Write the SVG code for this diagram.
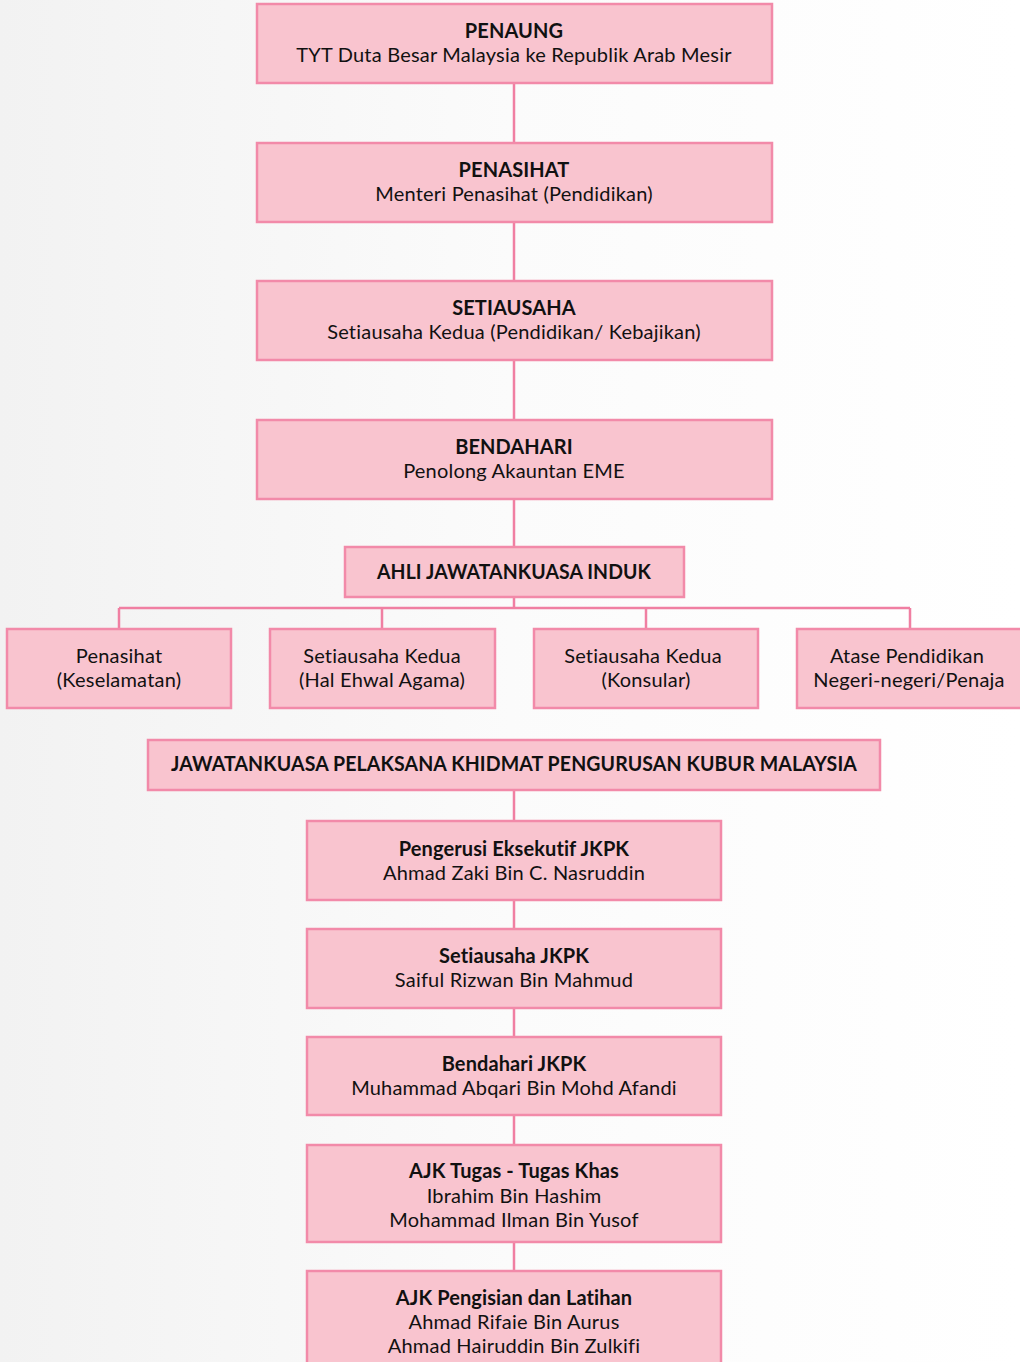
<svg xmlns="http://www.w3.org/2000/svg" width="1020" height="1362" viewBox="0 0 1020 1362">
<defs>
<linearGradient id="bg" x1="0" y1="0" x2="1" y2="0">
<stop offset="0" stop-color="#f2f2f2"/>
<stop offset="0.5" stop-color="#fbfbfb"/>
<stop offset="1" stop-color="#ffffff"/>
</linearGradient>
</defs>
<style>
.box{fill:#f9c4cf;stroke:#f28aa9;stroke-width:2.5}
.ln{stroke:#f07fa2;stroke-width:2.5;fill:none}
text{font-family:Lato,"Noto Sans","DejaVu Sans",sans-serif;font-size:20px;letter-spacing:0.2px;fill:#111;text-anchor:middle;dominant-baseline:central}
.b{font-weight:bold;letter-spacing:0.1px}
</style>
<rect width="1020" height="1362" fill="url(#bg)"/>
<g id="connectors">
<path class="ln" d="M514 83V143M514 222V281M514 360V420M514 499V547M514 597V608M119 608H910M119 608V629M382 608V629M646 608V629M910 608V629M514 790V821M514 900V929M514 1008V1037M514 1115V1145M514 1242V1271"/>
</g>
<g id="penaung"><rect class="box" x="257" y="4" width="515" height="79"/><text class="b" x="514" y="29.5">PENAUNG</text><text x="514" y="53.5">TYT Duta Besar Malaysia ke Republik Arab Mesir</text></g>
<g id="penasihat"><rect class="box" x="257" y="143" width="515" height="79"/><text class="b" x="514" y="168.5">PENASIHAT</text><text x="514" y="192.5">Menteri Penasihat (Pendidikan)</text></g>
<g id="setiausaha"><rect class="box" x="257" y="281" width="515" height="79"/><text class="b" x="514" y="306.5">SETIAUSAHA</text><text x="514" y="330.5">Setiausaha Kedua (Pendidikan/ Kebajikan)</text></g>
<g id="bendahari"><rect class="box" x="257" y="420" width="515" height="79"/><text class="b" x="514" y="445.5">BENDAHARI</text><text x="514" y="469.5">Penolong Akauntan EME</text></g>
<g id="ajk-induk"><rect class="box" x="345" y="547" width="339" height="50"/><text class="b" x="514" y="570.5" textLength="274" lengthAdjust="spacingAndGlyphs">AHLI JAWATANKUASA INDUK</text></g>
<g id="keselamatan"><rect class="box" x="7" y="629" width="224" height="79"/><text x="119" y="654.5">Penasihat</text><text x="119" y="678.5">(Keselamatan)</text></g>
<g id="agama"><rect class="box" x="270" y="629" width="225" height="79"/><text x="382" y="654.5">Setiausaha Kedua</text><text x="382" y="678.5">(Hal Ehwal Agama)</text></g>
<g id="konsular"><rect class="box" x="534" y="629" width="224" height="79"/><text x="643" y="654.5">Setiausaha Kedua</text><text x="646" y="678.5">(Konsular)</text></g>
<g id="atase"><rect class="box" x="797" y="629" width="226" height="79"/><text x="907" y="654.5">Atase Pendidikan</text><text x="909" y="678.5">Negeri-negeri/Penaja</text></g>
<g id="jkpk"><rect class="box" x="148" y="740" width="732" height="50"/><text class="b" x="514" y="762.5" textLength="686" lengthAdjust="spacingAndGlyphs">JAWATANKUASA PELAKSANA KHIDMAT PENGURUSAN KUBUR MALAYSIA</text></g>
<g id="pengerusi"><rect class="box" x="307" y="821" width="414" height="79"/><text class="b" x="514" y="847.5">Pengerusi Eksekutif JKPK</text><text x="514" y="871.5">Ahmad Zaki Bin C. Nasruddin</text></g>
<g id="setiausaha-jkpk"><rect class="box" x="307" y="929" width="414" height="79"/><text class="b" x="514" y="954.5">Setiausaha JKPK</text><text x="514" y="978.5">Saiful Rizwan Bin Mahmud</text></g>
<g id="bendahari-jkpk"><rect class="box" x="307" y="1037" width="414" height="78"/><text class="b" x="514" y="1062.5">Bendahari JKPK</text><text x="514" y="1086.5">Muhammad Abqari Bin Mohd Afandi</text></g>
<g id="tugas-khas"><rect class="box" x="307" y="1145" width="414" height="97"/><text class="b" x="514" y="1169.5">AJK Tugas - Tugas Khas</text><text x="514" y="1194.5">Ibrahim Bin Hashim</text><text x="514" y="1218.5">Mohammad Ilman Bin Yusof</text></g>
<g id="pengisian"><rect class="box" x="307" y="1271" width="414" height="100"/><text class="b" x="514" y="1296.5">AJK Pengisian dan Latihan</text><text x="514" y="1320.5">Ahmad Rifaie Bin Aurus</text><text x="514" y="1344.5">Ahmad Hairuddin Bin Zulkifi</text></g>
</svg>
